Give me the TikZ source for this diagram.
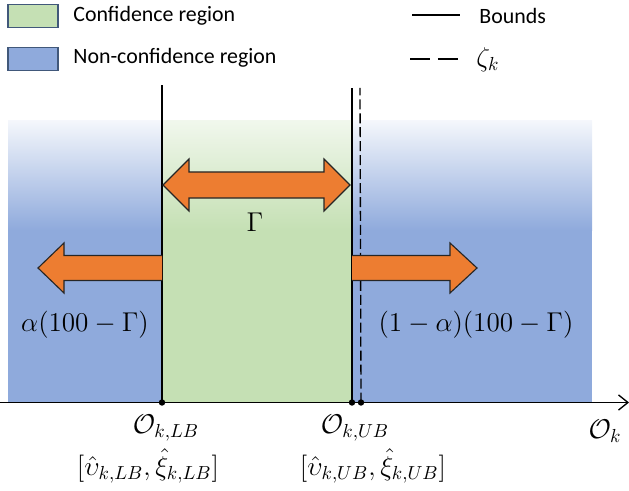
\documentclass[tikz,border=0pt]{standalone}
\usepackage{amsmath,amssymb}
\usepackage{fontspec}
\newfontfamily\legfont{Carlito}
\usepackage{xcolor}
\usepackage{tikz}
\usetikzlibrary{arrows.meta,positioning,calc}
\definecolor{cGreen}{HTML}{C5E0B4}
\definecolor{cBlue}{HTML}{8FAADC}
\definecolor{cOrange}{HTML}{ED7D31}
\definecolor{cEdge}{HTML}{41587A}
\definecolor{cInk}{HTML}{262626}
\tikzset{
  legbox/.style={draw=cEdge,fill=#1,line width=0.8pt,minimum width=26.5pt,minimum height=12.2pt,inner sep=0pt},
  legbox/.default=cGreen,
  legtxt/.style={font=\legfont\fontsize{11.6}{13}\selectfont,anchor=west,inner sep=0pt},
  mlbl/.style={font=\Large,inner sep=0pt},
  bound/.style={line width=0.7pt,color=black},
  zeta/.style={line width=0.7pt,color=black,dash pattern=on 5.3pt off 2.1pt},
  bigarr/.style={fill=cOrange,draw=cInk,line width=0.6pt,line join=miter},
  dot/.style={circle,fill=black,inner sep=0pt,minimum size=3.4pt},
}

\begin{document}
\begin{tikzpicture}[x=0.53pt,y=0.53pt]
  \useasboundingbox (0,0) rectangle (629,490);
  % regions
  \fill[cBlue] (8,88) rectangle (592,261);
  \shade[top color=cBlue!10,bottom color=cBlue] (8,260) rectangle (592,369);
  \fill[cGreen] (162,88) rectangle (352,261);
  \shade[top color=cGreen!25,bottom color=cGreen] (162,260) rectangle (352,369);
  % axis and bounds
  \coordinate (ax0) at (0,87.5);
  \coordinate (ax1) at (629,87.5);
  \draw[bound,-{Straight Barb[length=5pt,width=8pt]}] (ax0) -- (ax1);
  \node[dot] (lb) at (162,87.5) {};
  \node[dot] (ub) at (352,87.5) {};
  \node[dot] (zk) at (361,87.5) {};
  \coordinate (lbtop) at (162,405);
  \coordinate (ubtop) at (352,402);
  \coordinate (zktop) at (360,402);
  \draw[bound] (lb.center) -- (lbtop);
  \draw[bound] (ub.center) -- (ubtop);
  \draw[zeta] (zk.center) -- (zktop);
  % arrows
  \draw[bigarr] (163,305) -- (189,331) -- (189,318) -- (324,318) -- (324,331) -- (350,305)
    -- (324,279) -- (324,292) -- (189,292) -- (189,279) -- cycle;
  \draw[bigarr] (162,234.5) -- (64,234.5) -- (64,247) -- (38,222) -- (64,197) -- (64,209.5) -- (162,209.5);
  \draw[bigarr] (352,234.5) -- (450,234.5) -- (450,247) -- (477,222) -- (450,197) -- (450,209.5) -- (352,209.5);
  % labels
  \node[mlbl] (gam) at (255,268) {$\Gamma$};
  \node[mlbl] (lshare) at (85,165) {$\alpha(100-\Gamma)$};
  \node[mlbl] (rshare) at (476,165) {$(1-\alpha)(100-\Gamma)$};
  \node[mlbl] (olb) at (166,62) {$\mathcal{O}_{k,LB}$};
  \node[mlbl] (oub) at (355,62) {$\mathcal{O}_{k,UB}$};
  \node[mlbl] (ok) at (605,59) {$\mathcal{O}_k$};
  \node[mlbl] (plb) at (148,24) {$[\hat{\upsilon}_{k,LB},\hat{\xi}_{k,LB}]$};
  \node[mlbl] (pub) at (373,24) {$[\hat{\upsilon}_{k,UB},\hat{\xi}_{k,UB}]$};
  % legend
  \node[legbox=cGreen] (legconf) at (33,474) {};
  \node[legbox=cBlue] (legnon) at (33,431) {};
  \node[legtxt] (txtconf) at (73,474) {Confidence region};
  \node[legtxt] (txtnon) at (73,432) {Non-confidence region};
  \coordinate (bd0) at (412,475);
  \coordinate (bd1) at (460,475);
  \draw[bound] (bd0) -- (bd1);
  \coordinate (zd0) at (410,431);
  \coordinate (zd1) at (460,431);
  \draw[bound,dash pattern=on 10.6pt off 4.2pt] (zd0) -- (zd1);
  \node[legtxt] (txtbd) at (479,474) {Bounds};
  \node[mlbl,anchor=west] (txtzk) at (476,430) {$\zeta_k$};
\end{tikzpicture}
\end{document}
